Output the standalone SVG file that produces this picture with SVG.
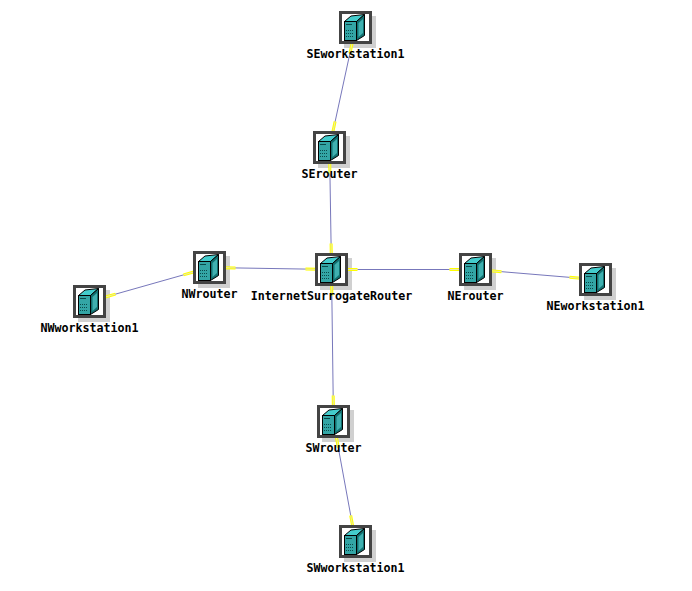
<svg xmlns="http://www.w3.org/2000/svg" width="692" height="591" viewBox="0 0 692 591">
<style>
text{font-family:"DejaVu Sans Mono","Liberation Mono",monospace;font-weight:bold;font-size:11.67px;text-anchor:middle;fill:#000}
.s{fill:#d0d0d0}
.l{stroke:#7777bb;stroke-width:1;fill:none}
.y{stroke:#ffff00;stroke-width:3;fill:none}
.c{stroke:#e8e8b0;stroke-width:1;fill:none}
</style>
<defs>
<rect id="shadow" class="s" x="5" y="5" width="32" height="32"/>
<symbol id="icon" width="33" height="33" viewBox="0 0 33 33">
<rect x="1.500" y="1.500" width="30" height="30" fill="#fff" stroke="#444" stroke-width="3"/>
<path d="M5.500 10.500 L12 5 L25.500 3.500 L17.500 10.500Z" fill="#44cccc" stroke="#000"/>
<path d="M17.500 10.500 L25.500 3.500 L25.500 24.500 L17.500 29.500Z" fill="#116f6f" stroke="#000"/>
<path d="M19.500 12 L24 8 L24 22 L19.500 26Z" fill="#3fb0b0"/>
<rect x="5.500" y="10.500" width="12" height="19" fill="#33a5a5" stroke="#000"/>
<path d="M7 13.500h6" stroke="#0a4a4a"/>
<path d="M7 19.500h8M7 22.500h8M7 25.500h8" stroke="#0a4a4a" stroke-dasharray="1 1"/>
</symbol>
</defs>
<g id="shadows">
<use href="#shadow" x="73" y="285"/><use href="#shadow" x="193" y="251"/><use href="#shadow" x="315" y="253"/>
<use href="#shadow" x="459" y="253"/><use href="#shadow" x="579" y="263"/><use href="#shadow" x="339" y="11"/>
<use href="#shadow" x="313" y="131"/><use href="#shadow" x="317" y="405"/><use href="#shadow" x="339" y="525"/>
</g>
<g id="connectors">
<path class="l" d="M355.500 27.500L329.500 147.500"/><path class="y" d="M355.500 27.500L349.900 53.500M329.500 147.500L335.100 121.500"/><path class="c" d="M355.500 27.500L349.900 53.500M329.500 147.500L335.100 121.500"/>
<path class="l" d="M329.500 147.500L331.500 269.500"/><path class="y" d="M329.500 147.500L329.900 173.500M331.500 269.500L331.100 243.500"/><path class="c" d="M329.500 147.500L329.900 173.500M331.500 269.500L331.100 243.500"/>
<path class="l" d="M209.500 267.500L331.500 269.500"/><path class="y" d="M209.500 267.500L235.500 267.900M331.500 269.500L305.500 269.100"/><path class="c" d="M209.500 267.500L235.500 267.900M331.500 269.500L305.500 269.100"/>
<path class="l" d="M89.500 301.500L209.500 267.500"/><path class="y" d="M89.500 301.500L115.500 294.100M209.500 267.500L183.500 274.900"/><path class="c" d="M89.500 301.500L115.500 294.100M209.500 267.500L183.500 274.900"/>
<path class="l" d="M331.500 269.500L475.500 269.500"/><path class="y" d="M331.500 269.500L357.500 269.500M475.500 269.500L449.500 269.500"/><path class="c" d="M331.500 269.500L357.500 269.500M475.500 269.500L449.500 269.500"/>
<path class="l" d="M475.500 269.500L595.500 279.500"/><path class="y" d="M475.500 269.500L501.500 271.700M595.500 279.500L569.500 277.300"/><path class="c" d="M475.500 269.500L501.500 271.700M595.500 279.500L569.500 277.300"/>
<path class="l" d="M331.500 269.500L333.500 421.500"/><path class="y" d="M331.500 269.500L331.800 295.500M333.500 421.500L333.200 395.500"/><path class="c" d="M331.500 269.500L331.800 295.500M333.500 421.500L333.200 395.500"/>
<path class="l" d="M333.500 421.500L355.500 541.500"/><path class="y" d="M333.500 421.500L338.300 447.500M355.500 541.500L350.700 515.500"/><path class="c" d="M333.500 421.500L338.300 447.500M355.500 541.500L350.700 515.500"/>
</g>
<g id="NWworkstation1"><use href="#icon" x="73" y="285"/><text x="89.500" y="332">NWworkstation1</text></g>
<g id="NWrouter"><use href="#icon" x="193" y="251"/><text x="209.500" y="298">NWrouter</text></g>
<g id="InternetSurrogateRouter"><use href="#icon" x="315" y="253"/><text x="331.500" y="300">InternetSurrogateRouter</text></g>
<g id="NErouter"><use href="#icon" x="459" y="253"/><text x="475.500" y="300">NErouter</text></g>
<g id="NEworkstation1"><use href="#icon" x="579" y="263"/><text x="595.500" y="310">NEworkstation1</text></g>
<g id="SEworkstation1"><use href="#icon" x="339" y="11"/><text x="355.500" y="58">SEworkstation1</text></g>
<g id="SErouter"><use href="#icon" x="313" y="131"/><text x="329.500" y="178">SErouter</text></g>
<g id="SWrouter"><use href="#icon" x="317" y="405"/><text x="333.500" y="452">SWrouter</text></g>
<g id="SWworkstation1"><use href="#icon" x="339" y="525"/><text x="355.500" y="572">SWworkstation1</text></g>
</svg>
